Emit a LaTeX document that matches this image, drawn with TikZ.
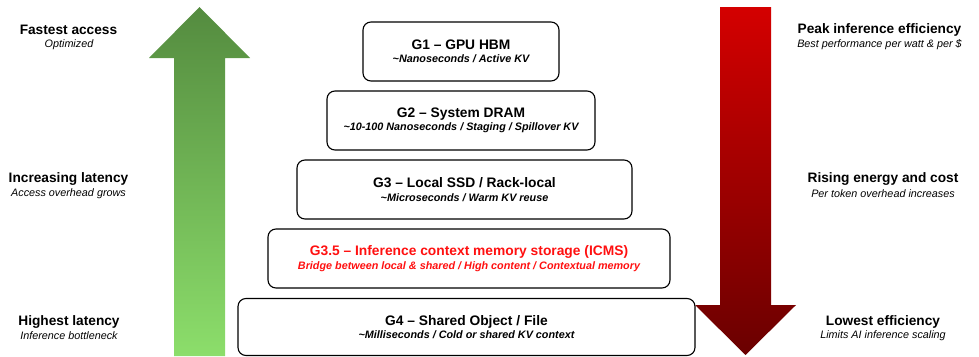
\documentclass[tikz,border=0pt]{standalone}
\usepackage{fontspec}
\setmainfont{Liberation Sans}
\definecolor{gtop}{HTML}{548B3F}
\definecolor{gbot}{HTML}{8CDE6B}
\definecolor{rtop}{HTML}{D40000}
\definecolor{rbot}{HTML}{6A0000}
\definecolor{icms}{HTML}{FF1010}
\tikzset{
  tier/.style={draw=black, line width=1.1pt, rounded corners=8pt, fill=white, align=center, inner sep=0pt},
  sidettl/.style={font=\bfseries\fontsize{13.7}{14}\selectfont, anchor=center},
  sidesub/.style={font=\itshape\fontsize{10.8}{11}\selectfont, anchor=center},
}
\newcommand{\tiertext}[2]{{\bfseries\fontsize{13.8}{14}\selectfont #1}\\[1.5pt]{\bfseries\itshape\fontsize{10.8}{11}\selectfont #2}}
\begin{document}
\begin{tikzpicture}[x=1pt,y=-1pt]
\useasboundingbox (0,0) rectangle (979,356);
% green arrow (up)
\shade[top color=gtop, bottom color=gbot]
  (174,356) -- (174,58) -- (149,58) -- (199.5,7) -- (250,58) -- (225,58) -- (225,356) -- cycle;
% red arrow (down)
\shade[top color=rtop, bottom color=rbot]
  (720,7) -- (771,7) -- (771,305) -- (796,305) -- (745.5,355) -- (695,305) -- (720,305) -- cycle;
% tiers
\node[tier, minimum width=196pt, minimum height=59pt] (g1) at (461,51.5)
  {\tiertext{G1 – GPU HBM}{\textasciitilde Nanoseconds / Active KV}};
\node[tier, minimum width=268pt, minimum height=59pt] (g2) at (461,120.5)
  {\tiertext{G2 – System DRAM}{\textasciitilde 10-100 Nanoseconds / Staging / Spillover KV}};
\node[tier, minimum width=335pt, minimum height=59pt] (g3) at (464.5,189.5)
  {\tiertext{G3 – Local SSD / Rack-local}{\textasciitilde Microseconds / Warm KV reuse}};
\node[tier, minimum width=402pt, minimum height=59pt, text=icms] (g35) at (469,258.5)
  {\tiertext{G3.5 – Inference context memory storage (ICMS)}{Bridge between local \& shared / High content / Contextual memory}};
\node[tier, minimum width=457pt, minimum height=57pt] (g4) at (466.5,327)
  {\tiertext{G4 – Shared Object / File}{\textasciitilde Milliseconds / Cold or shared KV context}};
% left labels
\node[sidettl] (l1) at (68.5,30) {Fastest access};
\node[sidesub] (l1s) at (69,45) {Optimized};
\node[sidettl] (l2) at (68.5,179) {Increasing latency};
\node[sidesub] (l2s) at (68.5,194) {Access overhead grows};
\node[sidettl] (l3) at (69,322) {Highest latency};
\node[sidesub] (l3s) at (69,336) {Inference bottleneck};
% right labels
\node[sidettl] (r1) at (879.5,30) {Peak inference efficiency};
\node[sidesub] (r1s) at (879.5,45) {Best performance per watt \& per \$};
\node[sidettl] (r2) at (883,179) {Rising energy and cost};
\node[sidesub] (r2s) at (883,194) {Per token overhead increases};
\node[sidettl] (r3) at (883,322) {Lowest efficiency};
\node[sidesub] (r3s) at (883,336) {Limits AI inference scaling};
\end{tikzpicture}
\end{document}
